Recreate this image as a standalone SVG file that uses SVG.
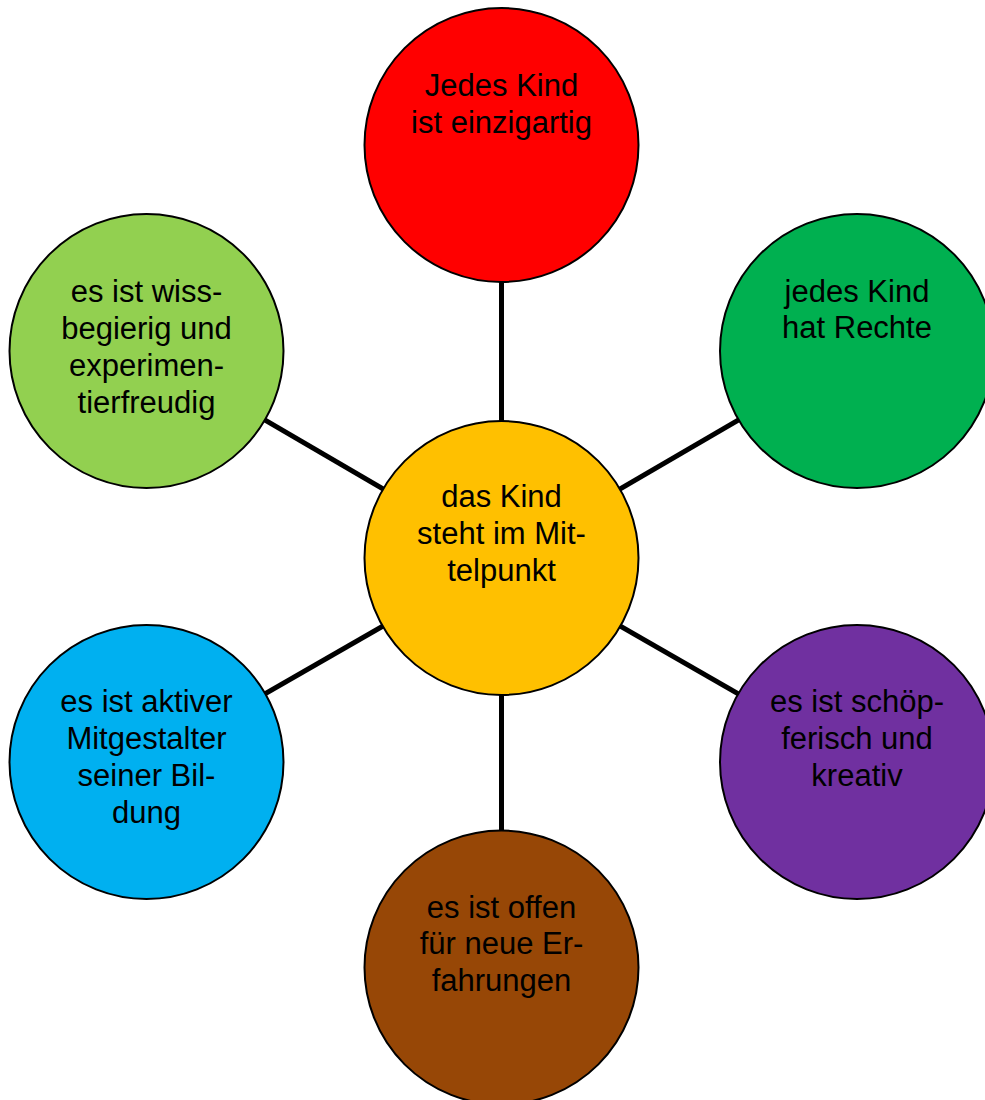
<svg xmlns="http://www.w3.org/2000/svg" width="985" height="1100" viewBox="0 0 985 1100">
<style>
.c{stroke:#000;stroke-width:2}
.t{font-family:"Liberation Sans",Arial,sans-serif;font-size:31px;fill:#000;text-anchor:middle}
.l{stroke:#000;stroke-width:5}
</style>
<rect width="985" height="1100" fill="#fff"/>
<g id="connectors">
<line class="l" x1="501.5" y1="558" x2="501.5" y2="145"/>
<line class="l" x1="501.5" y1="558" x2="857" y2="351"/>
<line class="l" x1="501.5" y1="558" x2="857" y2="762"/>
<line class="l" x1="501.5" y1="558" x2="501.5" y2="967.5"/>
<line class="l" x1="501.5" y1="558" x2="146.5" y2="762"/>
<line class="l" x1="501.5" y1="558" x2="146.5" y2="351"/>
</g>
<g id="top">
<circle class="c" cx="501.5" cy="145" r="137" fill="#FF0000"/>
<text class="t" x="501.5" y="96">Jedes Kind</text>
<text class="t" x="501.5" y="133">ist einzigartig</text>
</g>
<g id="topright">
<circle class="c" cx="857" cy="351" r="137" fill="#00B050"/>
<text class="t" x="857" y="302">jedes Kind</text>
<text class="t" x="857" y="338">hat Rechte</text>
</g>
<g id="bottomright">
<circle class="c" cx="857" cy="762" r="137" fill="#7030A0"/>
<text class="t" x="857" y="712">es ist schöp-</text>
<text class="t" x="857" y="749">ferisch und</text>
<text class="t" x="857" y="786">kreativ</text>
</g>
<g id="bottom">
<circle class="c" cx="501.5" cy="967.5" r="137" fill="#974706"/>
<text class="t" x="501.5" y="918">es ist offen</text>
<text class="t" x="501.5" y="954">für neue Er-</text>
<text class="t" x="501.5" y="991">fahrungen</text>
</g>
<g id="bottomleft">
<circle class="c" cx="146.5" cy="762" r="137" fill="#00B0F0"/>
<text class="t" x="146.5" y="712">es ist aktiver</text>
<text class="t" x="146.5" y="749">Mitgestalter</text>
<text class="t" x="146.5" y="786">seiner Bil-</text>
<text class="t" x="146.5" y="823">dung</text>
</g>
<g id="topleft">
<circle class="c" cx="146.5" cy="351" r="137" fill="#92D050"/>
<text class="t" x="146.5" y="302">es ist wiss-</text>
<text class="t" x="146.5" y="339">begierig und</text>
<text class="t" x="146.5" y="376">experimen-</text>
<text class="t" x="146.5" y="413">tierfreudig</text>
</g>
<g id="center">
<circle class="c" cx="501.5" cy="558" r="137" fill="#FFC000"/>
<text class="t" x="501.5" y="507">das Kind</text>
<text class="t" x="501.5" y="544">steht im Mit-</text>
<text class="t" x="501.5" y="581">telpunkt</text>
</g>
</svg>
